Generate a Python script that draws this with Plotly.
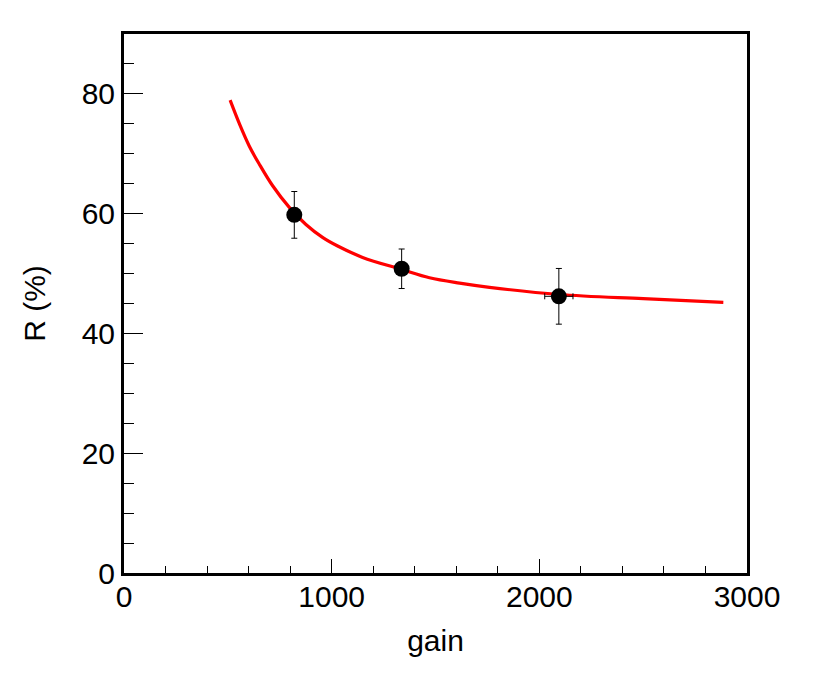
import plotly.graph_objects as go

# measured points
gain = [820, 1337, 2094]
resolution = [59.8, 50.8, 46.2]
res_err = [3.9, 3.3, 4.65]
gain_err = [0, 0, 68]

# fitted curve
fit_gain = [511, 557, 603, 651, 715, 796, 876, 956, 1029, 1149, 1336, 1471, 1616, 1760, 2095, 2500, 2886]
fit_res = [78.95, 74.9, 71.3, 68.3, 64.7, 61.05, 58.2, 56.05, 54.6, 52.7, 50.7, 49.3, 48.4, 47.7, 46.5, 45.8, 45.2]

x_ticks = [0, 1000, 2000, 3000]
y_ticks = [0, 20, 40, 60, 80]

FONT = "Liberation Sans, Arial, Helvetica, sans-serif"

fig = go.Figure()
fig.add_trace(go.Scatter(
    x=fit_gain, y=fit_res, mode="lines",
    line=dict(color="#ff0000", width=3.2, shape="spline", smoothing=1.0),
    hoverinfo="skip", showlegend=False,
))
fig.add_trace(go.Scatter(
    x=gain, y=resolution, mode="markers",
    marker=dict(color="black", size=16),
    error_y=dict(type="data", array=res_err, color="black", thickness=1, width=3),
    error_x=dict(type="data", array=gain_err, color="black", thickness=1, width=3),
    showlegend=False,
))

fig.update_layout(
    width=822, height=667,
    margin=dict(l=116, r=83, t=26, b=102),
    paper_bgcolor="white", plot_bgcolor="white",
    font=dict(family=FONT, size=30, color="black"),
    xaxis=dict(
        range=[0, 3000], tickvals=x_ticks, ticktext=[str(v) for v in x_ticks],
        ticks="inside", ticklen=14, tickwidth=1, tickcolor="black",
        minor=dict(ticks="inside", ticklen=7, dtick=200, tickwidth=1, tickcolor="black"),
        showline=True, linecolor="black", linewidth=3, mirror=True,
        showgrid=False, zeroline=False,
        title=dict(text="gain", standoff=18, font=dict(size=30)),
        ticklabelstandoff=-5,
    ),
    yaxis=dict(
        range=[0, 90], tickvals=y_ticks, ticktext=[str(v) for v in y_ticks],
        ticks="inside", ticklen=19, tickwidth=1, tickcolor="black",
        minor=dict(ticks="inside", ticklen=10, dtick=5, tickwidth=1, tickcolor="black"),
        showline=True, linecolor="black", linewidth=3, mirror=True,
        showgrid=False, zeroline=False,
        title=dict(text="R (%)", standoff=28, font=dict(size=30)),
        ticklabelstandoff=0,
    ),
)

fig.write_html("out.html")
